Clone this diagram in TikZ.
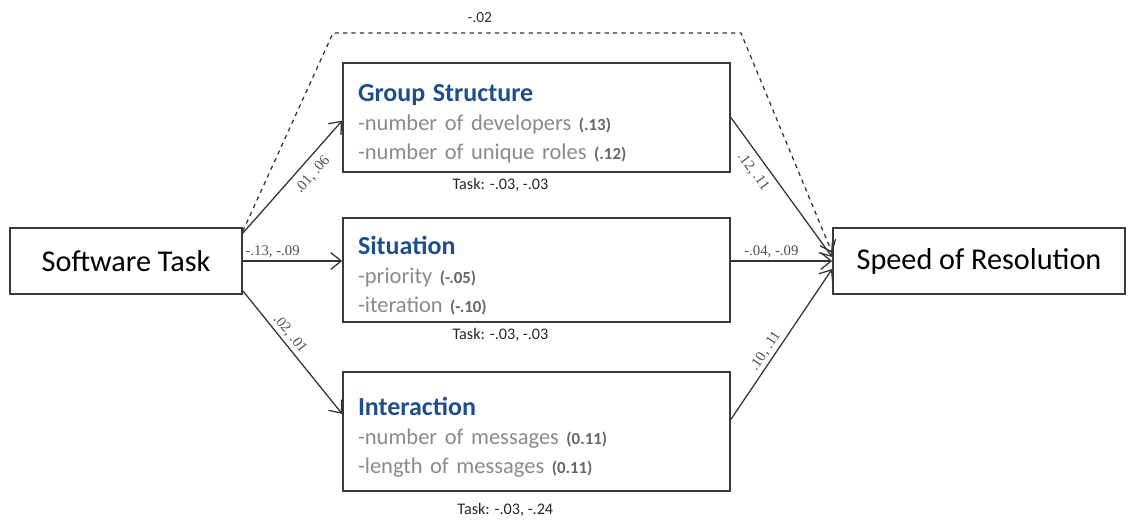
\documentclass[tikz,border=0pt]{standalone}
\usepackage{fontspec}
\setmainfont{Carlito}
\newfontfamily\coeffont{Liberation Serif}
\usetikzlibrary{positioning,calc,arrows.meta}

\definecolor{titleblue}{HTML}{1F4E8C}
\definecolor{itemgray}{HTML}{8A8A8A}
\definecolor{valgray}{HTML}{666666}
\definecolor{coefgray}{HTML}{505050}
\definecolor{linegray}{HTML}{3A3A3A}

\newcommand{\boxtitle}[1]{{\fontsize{18.5}{22}\selectfont\bfseries\color{titleblue}\rule{0pt}{21pt}#1}}
\newcommand{\boxitem}[2]{{\color{itemgray}-#1 {\fontsize{12}{14}\selectfont\bfseries\color{valgray}(#2)}}}

\begin{document}
\begin{tikzpicture}[>={Straight Barb[length=2.6mm,width=4.2mm]},
    mainbox/.style={draw=linegray,line width=1.2pt,minimum height=1.65cm,font=\fontsize{21.5}{26}\selectfont},
    factor/.style={draw=linegray,line width=1.2pt,inner xsep=3.75mm,text width=8.925cm,align=left,font=\fontsize{16}{20.5}\selectfont},
    link/.style={->,draw=black!80,line width=0.9pt},
    coef/.style={font=\coeffont\fontsize{10.5}{12}\selectfont,text=coefgray,inner sep=2pt},
    tasklbl/.style={font=\fontsize{11.5}{13}\selectfont,text=black!85,inner sep=1pt}]
    \useasboundingbox (0,0) rectangle (28.35,-13);

    \node[mainbox,minimum width=5.8cm] (task) at (3.15,-6.525) {Software Task};
    \node[mainbox,minimum width=7.3cm] (speed) at (24.475,-6.525) {Speed of Resolution};

    \node[factor,minimum height=2.725cm] (group) at (13.4125,-2.9375)
        {\boxtitle{Group Structure}\\ \boxitem{number of developers}{.13}\\ \boxitem{number of unique roles}{.12}};
    \node[factor,minimum height=2.6cm] (situation) at (13.4125,-6.75)
        {\boxtitle{Situation}\\ \boxitem{priority}{-.05}\\ \boxitem{iteration}{-.10}};
    \node[factor,minimum height=2.975cm] (interaction) at (13.4125,-10.7875)
        {\boxtitle{Interaction}\\ \boxitem{number of messages}{0.11}\\ \boxitem{length of messages}{0.11}};

    \node[tasklbl,below=1mm of group.south,xshift=-9mm] (gtask) {Task: -.03, -.03};
    \node[tasklbl,below=1mm of situation.south,xshift=-9mm] (stask) {Task: -.03, -.03};
    \node[tasklbl,below=2.5mm of interaction.south,xshift=-7.8mm] (itask) {Task: -.03, -.24};

    \coordinate (d1) at (8.325,-0.825);
    \coordinate (d2) at (18.525,-0.825);
    \draw[link,dashed] ($(task.north east)+(0,-0.1)$) -- (d1)
        -- node[pos=0.36,above=2.5mm,font=\fontsize{11}{13}\selectfont,text=black!80,inner sep=0pt] (direct) {-.02} (d2)
        -- ($(speed.west)+(0,0.2)$);

    \draw[link] ($(task.north east)+(0,-0.15)$) -- node[coef,sloped,below=3pt,pos=0.6] (c1) {.01, .06} ($(group.west)+(0,-0.08)$);
    \draw[link] (task.east) -- node[coef,above,pos=0.3] (c2) {-.13, -.09} (task.east -| situation.west);
    \draw[link] ($(task.south east)+(0,0.1)$) -- node[coef,sloped,above,pos=0.4] (c3) {.02, .01} ($(interaction.west)+(0,0.44)$);

    \draw[link] (group.east) -- node[coef,sloped,below=3pt,pos=0.33] (c4) {.12, .11} ($(speed.west)+(0,0.1)$);
    \draw[link] (speed.west -| situation.east) -- node[coef,above,pos=0.4] (c5) {-.04, -.09} (speed.west);
    \draw[link] ($(interaction.east)+(0,0.3)$) -- node[coef,sloped,above,pos=0.42] (c6) {.10, .11} ($(speed.west)+(0,-0.2)$);
\end{tikzpicture}
\end{document}
